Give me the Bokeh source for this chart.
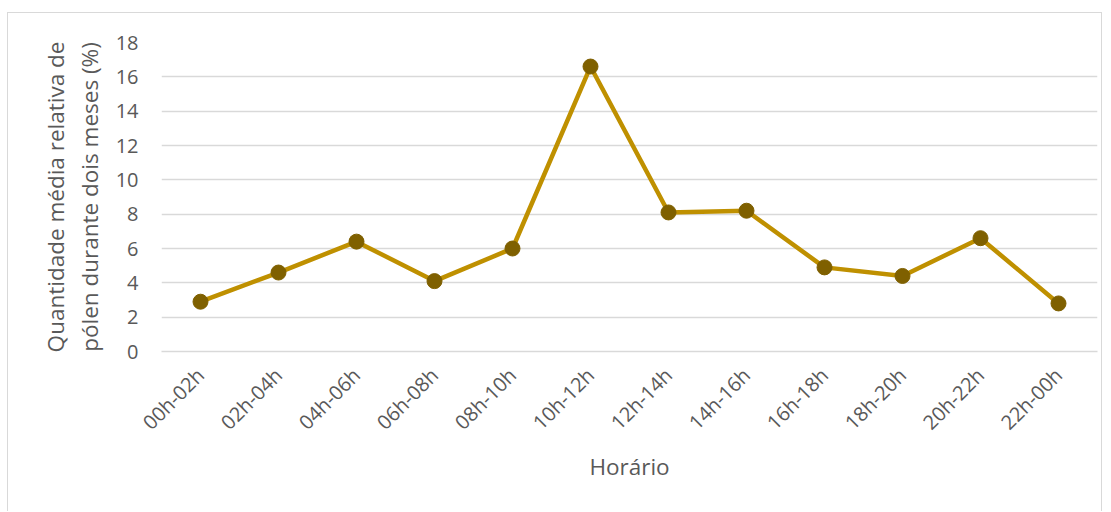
from bokeh.plotting import figure
from bokeh.models import ColumnDataSource, FactorRange, Range1d, FixedTicker, LinearAxis
from bokeh.embed import file_html
from bokeh.resources import INLINE
import math

horarios = ["00h-02h", "02h-04h", "04h-06h", "06h-08h", "08h-10h", "10h-12h",
            "12h-14h", "14h-16h", "16h-18h", "18h-20h", "20h-22h", "22h-00h"]
polen = [2.9, 4.6, 6.4, 4.1, 6.0, 16.6, 8.1, 8.2, 4.9, 4.4, 6.6, 2.8]
y_ticks = [0, 2, 4, 6, 8, 10, 12, 14, 16, 18]
y_title_1 = "Quantidade média relativa de"
y_title_2 = "pólen durante dois meses (%)"
x_title = "Horário"

FONT = "Open Sans"
TXT = "#595959"

src = ColumnDataSource(data=dict(x=horarios, y=polen))

p = figure(width=1095, height=499, output_backend="svg", toolbar_location=None,
           x_range=FactorRange(factors=horarios, range_padding=0),
           y_range=Range1d(0, 18),
           min_border_left=153, min_border_right=6, min_border_top=29, min_border_bottom=161)
p.styles = {"border": "1px solid #D9D9D9", "border-bottom": "none",
            "margin-top": "12px", "margin-left": "7px"}
p.outline_line_color = None
p.background_fill_color = "white"
p.border_fill_color = "white"

p.line("x", "y", source=src, line_color="#BF9000", line_width=4.5)
p.scatter("x", "y", source=src, size=15, fill_color="#7F6000", line_color="#7F6000")

p.xgrid.grid_line_color = None
p.ygrid.grid_line_color = "#D9D9D9"
p.ygrid.grid_line_width = 1.5
p.yaxis.ticker = FixedTicker(ticks=y_ticks)

extra = LinearAxis(ticker=FixedTicker(ticks=[]), axis_label=y_title_1)
p.add_layout(extra, "left")

for ax in (p.xaxis[0], p.yaxis[0], extra):
    ax.major_tick_line_color = None
    ax.minor_tick_line_color = None
    ax.major_label_text_font = FONT
    ax.major_label_text_color = TXT
    ax.major_label_text_font_size = "20px"
    ax.axis_label_text_font = FONT
    ax.axis_label_text_color = TXT
    ax.axis_label_text_font_size = "22.5px"
    ax.axis_label_text_font_style = "normal"

extra.axis_line_color = None
extra.major_label_text_font_size = "0px"
extra.major_label_standoff = 0
extra.axis_label_standoff = 0

p.yaxis[0].axis_line_color = None
p.yaxis[0].major_label_standoff = 17
p.yaxis[0].axis_label = y_title_2
p.yaxis[0].axis_label_standoff = 8

p.xaxis.axis_line_color = "#D9D9D9"
p.xaxis.axis_line_width = 1.5
p.xaxis.major_label_orientation = math.pi / 4
p.xaxis.major_label_standoff = 14
p.xaxis.axis_label = x_title
p.xaxis.axis_label_standoff = 3

open("out.html", "w").write(file_html(p, INLINE))
